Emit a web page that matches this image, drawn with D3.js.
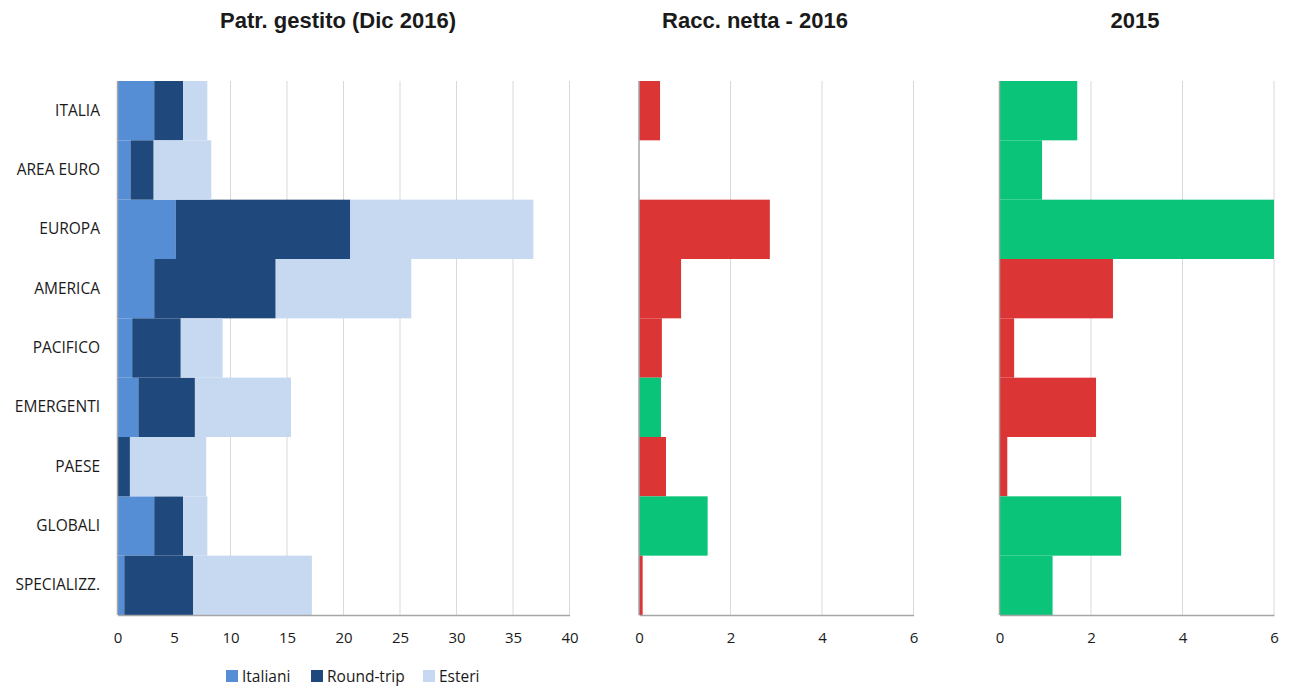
<!DOCTYPE html>
<html>
<head>
<meta charset="utf-8">
<script src="https://cdn.jsdelivr.net/npm/d3@7"></script>
<style>
  body { margin: 0; background: #fff; }
  svg text { font-family: "Open Sans", "Noto Sans", sans-serif; }
</style>
</head>
<body>
<svg id="chart" width="1289" height="686"></svg>
<script>
// categories (top to bottom)
const categories = ["ITALIA", "AREA EURO", "EUROPA", "AMERICA", "PACIFICO", "EMERGENTI", "PAESE", "GLOBALI", "SPECIALIZZ."];

// patrimonio gestito, stacked
const seriesNames = ["Italiani", "Round-trip", "Esteri"];
const italiani  = [3.25, 1.15, 5.15, 3.25, 1.3, 1.85, 0.0, 3.25, 0.6];
const roundTrip = [2.55, 2.05, 15.45, 10.75, 4.3, 5.0, 1.1, 2.55, 6.1];
const esteri    = [2.15, 5.1, 16.2, 12.0, 3.7, 8.5, 6.75, 2.15, 10.5];

// raccolta netta (sign gives colour)
const racc2016 = [-0.46, 0.0, -2.86, -0.92, -0.5, 0.48, -0.59, 1.5, -0.08];
const racc2015 = [1.70, 0.93, 6.0, -2.48, -0.32, -2.11, -0.17, 2.66, 1.16];

const ticksStock = [0, 5, 10, 15, 20, 25, 30, 35, 40];
const ticksFlow = [0, 2, 4, 6];

const colors = { "Italiani": "#558ED5", "Round-trip": "#1F497D", "Esteri": "#C6D9F1" };
const posColor = "#09C479", negColor = "#DB3535";

const svg = d3.select("#chart");
const plotTop = 81, plotBottom = 615;

const y = d3.scaleBand().domain(categories).range([plotTop, plotBottom]).padding(0);

// ---------- panel helpers ----------
function drawGrid(x, ticks) {
  svg.append("g").selectAll("line")
    .data(ticks.slice(1))
    .enter().append("line")
    .attr("x1", d => x(d)).attr("x2", d => x(d))
    .attr("y1", plotTop).attr("y2", plotBottom)
    .attr("stroke", "#d9d9d9").attr("stroke-width", 1);
}
function drawFrame(x, ticks) {
  const ax = svg.append("g")
    .attr("transform", `translate(0,${plotBottom})`)
    .call(d3.axisBottom(x).tickValues(ticks).tickFormat(d3.format("d")).tickSize(0).tickPadding(17));
  ax.select(".domain").attr("stroke", "#a6a6a6").attr("stroke-width", 1.5);
  ax.selectAll("text").style("font-size", "15px").attr("fill", "#1a1a1a");
  svg.append("line")
    .attr("x1", x(0)).attr("x2", x(0))
    .attr("y1", plotTop).attr("y2", plotBottom)
    .attr("stroke", "#a6a6a6").attr("stroke-width", 1.5);
}
function title(text, cx) {
  svg.append("text")
    .attr("x", cx).attr("y", 28)
    .attr("text-anchor", "middle")
    .style("font-family", "'Liberation Sans', Arial, sans-serif")
    .style("font-size", "22px").style("font-weight", "700")
    .attr("fill", "#1a1a1a")
    .text(text);
}

// ---------- panel 1: stacked ----------
const xStock = d3.scaleLinear().domain([0, 40]).range([117.5, 569.5]);
drawGrid(xStock, ticksStock);

const rows = categories.map((c, i) => ({
  cat: c, "Italiani": italiani[i], "Round-trip": roundTrip[i], "Esteri": esteri[i]
}));
const stacked = d3.stack().keys(seriesNames)(rows);

svg.append("g").selectAll("g")
  .data(stacked)
  .enter().append("g")
  .attr("fill", d => colors[d.key])
  .selectAll("rect")
  .data(d => d)
  .enter().append("rect")
  .attr("x", d => xStock(d[0]))
  .attr("width", d => xStock(d[1]) - xStock(d[0]))
  .attr("y", d => y(d.data.cat))
  .attr("height", y.bandwidth());

drawFrame(xStock, ticksStock);

svg.append("g")
  .attr("transform", `translate(100,0)`)
  .call(d3.axisLeft(y).tickSize(0).tickPadding(0))
  .call(g => g.select(".domain").remove())
  .selectAll("text")
  .style("font-size", "15.5px")
  .attr("fill", "#1a1a1a");

title("Patr. gestito (Dic 2016)", 338);

// ---------- panel 2 & 3: net flows ----------
function flowPanel(values, x0, x1r, label, cx) {
  const x = d3.scaleLinear().domain([0, 6]).range([x0, x1r]);
  drawGrid(x, ticksFlow);
  svg.append("g").selectAll("rect")
    .data(values)
    .enter().append("rect")
    .attr("x", x(0))
    .attr("width", d => x(Math.min(Math.abs(d), 6)) - x(0))
    .attr("y", (d, i) => y(categories[i]))
    .attr("height", y.bandwidth())
    .attr("fill", d => d < 0 ? negColor : posColor);
  drawFrame(x, ticksFlow);
  title(label, cx);
}
flowPanel(racc2016, 639, 913.5, "Racc. netta - 2016", 755);
flowPanel(racc2015, 999.5, 1274, "2015", 1135);

// ---------- legend ----------
const legendX = [226, 311, 423];
const leg = svg.append("g").selectAll("g")
  .data(seriesNames)
  .enter().append("g")
  .attr("transform", (d, i) => `translate(${legendX[i]},670)`);
leg.append("rect")
  .attr("width", 12).attr("height", 12)
  .attr("fill", d => colors[d]);
leg.append("text")
  .attr("x", 16).attr("y", 12)
  .style("font-size", "15.5px")
  .attr("fill", "#1a1a1a")
  .text(d => d);
</script>
</body>
</html>
